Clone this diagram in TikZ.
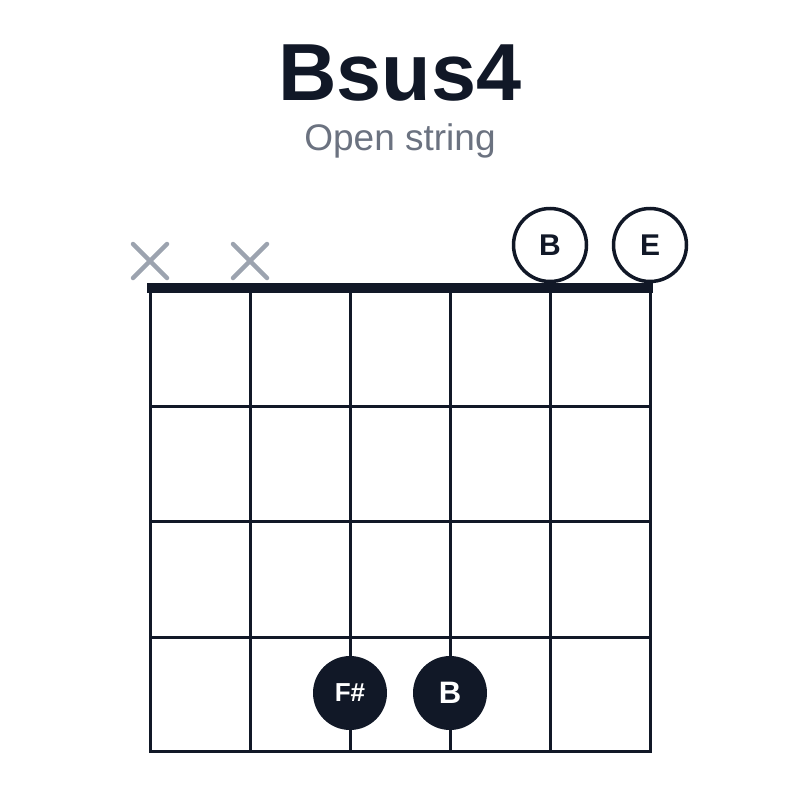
\documentclass[tikz,border=0pt]{standalone}
\usepackage{fontspec}
\setmainfont{Liberation Sans}
\usetikzlibrary{positioning}
\definecolor{ink}{HTML}{111827}
\definecolor{xgray}{HTML}{9CA3AF}
\definecolor{subgray}{HTML}{6B7280}

\begin{document}
\begin{tikzpicture}[x=1pt,y=-1pt,
	wire/.style={ink,line width=3pt},
	fretline/.style={ink,line width=3pt,line cap=rect},
	openring/.style={circle,draw=ink,line width=3.5pt,fill=white,minimum size=73pt,inner sep=0pt,text=ink,font=\bfseries\fontsize{30}{30}\selectfont},
	fingerdot/.style={circle,fill=ink,minimum size=74pt,inner sep=0pt,text=white,font=\bfseries\fontsize{31}{31}\selectfont},
	xmark/.style={xgray,line width=4.5pt,line cap=round}]
	\useasboundingbox (0,0) rectangle (800,800);

	% title
	\node[anchor=base,text=ink,font=\bfseries\fontsize{81}{81}\selectfont] (title) at (400,100) {Bsus4};
	\node[anchor=base,text=subgray,font=\fontsize{37}{37}\selectfont] (sub) at (400,150) {Open string};

	% strings
	\coordinate(t1) at (150,288);
	\coordinate(t2) at (250,288);
	\coordinate(t3) at (350,288);
	\coordinate(t4) at (450,288);
	\coordinate(t5) at (550,288);
	\coordinate(t6) at (650,288);
	\coordinate(b1) at (150,751);
	\coordinate(b2) at (250,751);
	\coordinate(b3) at (350,751);
	\coordinate(b4) at (450,751);
	\coordinate(b5) at (550,751);
	\coordinate(b6) at (650,751);
	\foreach \s in {1,...,6}
		\draw[wire] (t\s) -- (b\s);

	% frets
	\coordinate(l1) at (150,406); \coordinate(r1) at (650,406);
	\coordinate(l2) at (150,521); \coordinate(r2) at (650,521);
	\coordinate(l3) at (150,637); \coordinate(r3) at (650,637);
	\foreach \f in {1,2,3}
		\draw[fretline] (l\f) -- (r\f);
	\draw[fretline] (b1) -- (b6);

	% nut
	\draw[ink,line width=10pt] ([xshift=-3pt]t1) -- ([xshift=3pt]t6);

	% muted strings
	\coordinate(x1) at (150,261);
	\coordinate(x2) at (250,261);
	\foreach \m in {1,2} {
		\draw[xmark] ([shift={(-17,-17)}]x\m) -- ([shift={(17,17)}]x\m);
		\draw[xmark] ([shift={(-17,17)}]x\m) -- ([shift={(17,-17)}]x\m);
	}

	% open strings
	\node[openring] (openB) at (550,245) {B};
	\node[openring] (openE) at (650,245) {E};

	% fingers
	\node[fingerdot,font=\bfseries\fontsize{26}{26}\selectfont] (fsharp) at (350,693) {F\#};
	\node[fingerdot] (fingB) at (450,693) {B};
\end{tikzpicture}
\end{document}
